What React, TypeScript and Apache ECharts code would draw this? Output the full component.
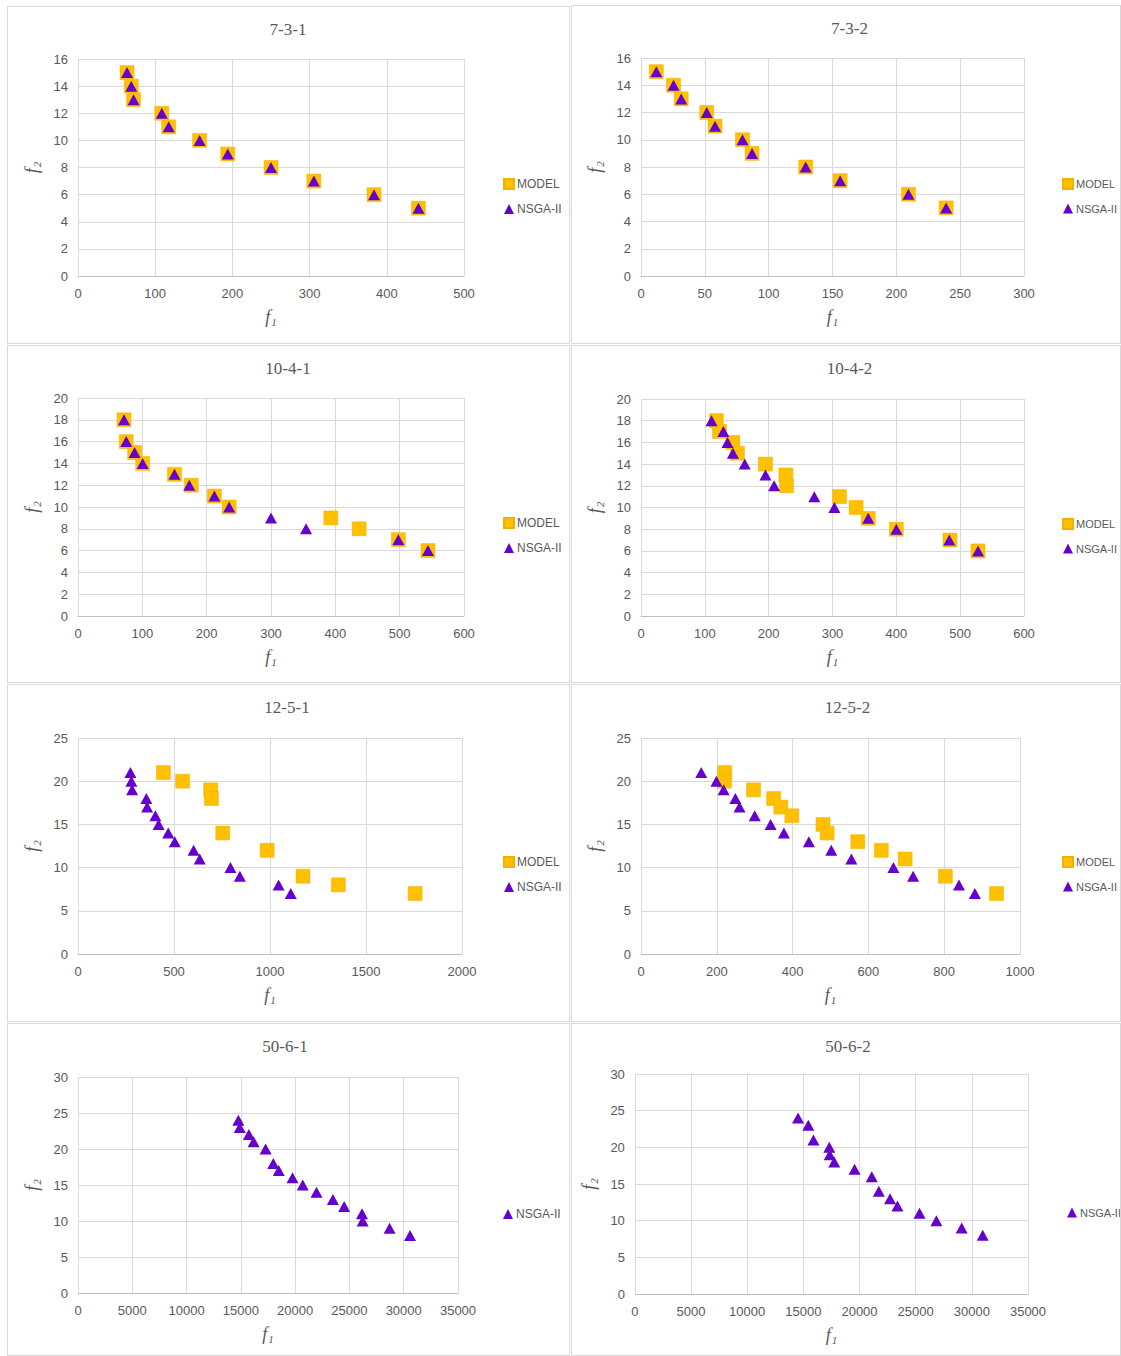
import React, { useEffect, useRef } from "react";
import * as echarts from "echarts";

// ---------- DATA ([f1, f2] pairs) ----------
const model_7_3_1: number[][] = [[63.5,15],[69,14],[72,13],[108.5,12],[117.5,11],[157.5,10],[194,9],[250,8],[305.5,7],[383.5,6],[441,5]];
const nsga_7_3_1: number[][] = [[63.5,15],[69,14],[72,13],[108.5,12],[117.5,11],[157.5,10],[194,9],[250,8],[305.5,7],[383.5,6],[441,5]];

const model_7_3_2: number[][] = [[12,15],[25.5,14],[31.5,13],[51.5,12],[58,11],[79.5,10],[87,9],[129,8],[156,7],[209.5,6],[239,5]];
const nsga_7_3_2: number[][] = [[12,15],[25.5,14],[31.5,13],[51.5,12],[58,11],[79.5,10],[87,9],[129,8],[156,7],[209.5,6],[239,5]];

const model_10_4_1: number[][] = [[71.5,18],[75,16],[88,15],[100.5,14],[150,13],[176,12],[212,11],[235,10],[393,9],[437,8],[498,7],[544,6]];
const nsga_10_4_1: number[][] = [[71.5,18],[75,16],[88,15],[100.5,14],[150,13],[173,12],[212,11],[235,10],[300,9],[354.5,8],[498,7],[544,6]];

const model_10_4_2: number[][] = [[118,18],[123,17],[144,16],[151,15],[195,14],[227,13],[228,12],[311,11],[337,10],[356,9],[400,8],[484,7],[528,6]];
const nsga_10_4_2: number[][] = [[110.5,18],[129,17],[135.5,16],[144,15],[162.5,14],[195,13],[208.5,12],[271.5,11],[303,10],[356,9],[400,8],[483,7],[528,6]];

const model_12_5_1: number[][] = [[445,21],[545,20],[691,19],[695,18],[754,14],[985,12],[1172,9],[1356,8],[1756,7]];
const nsga_12_5_1: number[][] = [[273,21],[278,20],[282,19],[356,18],[360,17],[403,16],[420,15],[470,14],[504,13],[602,12],[634,11],[794,10],[843,9],[1045,8],[1108,7]];

const model_12_5_2: number[][] = [[221,21],[220,20],[297,19],[350,18],[369,17],[398,16],[480,15],[491,14],[572,13],[634,12],[697,11],[803,9],[938,7]];
const nsga_12_5_2: number[][] = [[159,21],[199,20],[218,19],[249,18],[260,17],[300,16],[342,15],[377,14],[443,13],[502,12],[555,11],[666,10],[718,9],[839,8],[881,7]];

const nsga_50_6_1: number[][] = [[14770,24],[14900,23],[15740,22],[16175,21],[17280,20],[17985,18],[18490,17],[19760,16],[20700,15],[21970,14],[23480,13],[24515,12],[26160,11],[26220,10],[28700,9],[30580,8]];

const nsga_50_6_2: number[][] = [[14530,24],[15440,23],[15900,21],[17310,20],[17345,19],[17750,18],[19560,17],[21090,16],[21720,14],[22720,13],[23375,12],[25345,11],[26845,10],[29095,9],[30970,8]];

// ---------- PANEL SPECS ----------
type Spec = {
  title: string;
  box: [number, number, number, number];
  grid: [number, number, number, number];
  xMax: number; xInt: number; yMax: number; yInt: number;
  model?: number[][]; nsga: number[][];
  legend: [number, number];
  legendFont: number;
};

const specs: Spec[] = [
  { title: "7-3-1", box: [7, 6, 563, 338], grid: [70, 52, 386, 217], xMax: 500, xInt: 100, yMax: 16, yInt: 2, model: model_7_3_1, nsga: nsga_7_3_1, legend: [490, 166], legendFont: 12 },
  { title: "7-3-2", box: [571, 5, 550, 339], grid: [69, 52, 383, 218], xMax: 300, xInt: 50, yMax: 16, yInt: 2, model: model_7_3_2, nsga: nsga_7_3_2, legend: [485, 167], legendFont: 11 },
  { title: "10-4-1", box: [7, 345, 563, 338], grid: [70, 52, 386, 218], xMax: 600, xInt: 100, yMax: 20, yInt: 2, model: model_10_4_1, nsga: nsga_10_4_1, legend: [490, 166], legendFont: 12 },
  { title: "10-4-2", box: [571, 345, 550, 338], grid: [69, 53, 383, 217], xMax: 600, xInt: 100, yMax: 20, yInt: 2, model: model_10_4_2, nsga: nsga_10_4_2, legend: [485, 167], legendFont: 11 },
  { title: "12-5-1", box: [7, 684, 563, 338], grid: [70, 53, 384, 216], xMax: 2000, xInt: 500, yMax: 25, yInt: 5, model: model_12_5_1, nsga: nsga_12_5_1, legend: [490, 166], legendFont: 12 },
  { title: "12-5-2", box: [571, 684, 550, 338], grid: [69, 53, 379, 216], xMax: 1000, xInt: 200, yMax: 25, yInt: 5, model: model_12_5_2, nsga: nsga_12_5_2, legend: [485, 166], legendFont: 11 },
  { title: "50-6-1", box: [7, 1023, 563, 333], grid: [70, 53, 380, 216], xMax: 35000, xInt: 5000, yMax: 30, yInt: 5, nsga: nsga_50_6_1, legend: [490, 179], legendFont: 12 },
  { title: "50-6-2", box: [571, 1023, 550, 333], grid: [62, 50, 394, 220], xMax: 35000, xInt: 5000, yMax: 30, yInt: 5, nsga: nsga_50_6_2, legend: [490, 178], legendFont: 11 },
];

const GRAY = "#595959";
const GRID = "#d9d9d9";
const SANS = "'Liberation Sans', Arial, sans-serif";
const SERIF = "'Liberation Serif', 'Times New Roman', serif";
const MODEL_C = "#FFC000";
const NSGA_C = "#6600CC";

function Panel({ s }: { s: Spec }) {
  const ref = useRef<HTMLDivElement>(null);
  useEffect(() => {
    if (!ref.current) return;
    const chart = echarts.init(ref.current, undefined, { renderer: "svg" });
    const series: any[] = [];
    const legendData: any[] = [];
    if (s.model) {
      series.push({
        name: "MODEL", type: "scatter", symbol: "rect", symbolSize: 14,
        itemStyle: { color: MODEL_C, opacity: 1, borderColor: "#F2B000", borderWidth: 0.5 },
        data: s.model, z: 2,
      });
      legendData.push({ name: "MODEL", icon: "rect" });
    }
    series.push({
      name: "NSGA-II", type: "scatter", symbol: "triangle", symbolSize: [12, 11],
      itemStyle: { color: NSGA_C, opacity: 1 },
      data: s.nsga, z: 3,
    });
    legendData.push({ name: "NSGA-II", icon: "triangle" });

    const [gl, gt, gw, gh] = s.grid;
    const richName = {
      a: { fontFamily: SERIF, fontStyle: "italic", fontSize: 18, color: GRAY },
      b: { fontFamily: SERIF, fontStyle: "italic", fontSize: 11, color: GRAY, padding: [10, 0, 0, 1] },
    };
    chart.setOption({
      animation: false,
      title: {
        text: s.title, left: gl + gw / 2 + 12, top: 9, textAlign: "center",
        textStyle: { fontFamily: SERIF, fontSize: 17, fontWeight: "normal", color: GRAY },
      },
      legend: {
        orient: "vertical", left: s.legend[0], top: s.legend[1],
        itemWidth: 10, itemHeight: 10, itemGap: 13,
        textStyle: { fontFamily: SANS, fontSize: s.legendFont, color: GRAY, padding: [0, 0, 0, -2] },
        data: legendData,
      },
      grid: { left: gl, top: gt, width: gw, height: gh },
      xAxis: {
        type: "value", min: 0, max: s.xMax, interval: s.xInt,
        name: "{a|f}{b|1}", nameLocation: "middle", nameGap: 30,
        nameTextStyle: { rich: richName },
        axisLine: { show: true, lineStyle: { color: "#bfbfbf", width: 1 } },
        axisTick: { show: false },
        axisLabel: { fontFamily: SANS, fontSize: 13, color: GRAY, margin: 11, formatter: (v: number) => String(v) },
        splitLine: { show: true, lineStyle: { color: GRID, width: 1 } },
      },
      yAxis: {
        type: "value", min: 0, max: s.yMax, interval: s.yInt,
        name: "{a|f}{b|2}", nameLocation: "middle", nameGap: 32, nameRotate: 90,
        nameTextStyle: { rich: richName },
        axisLine: { show: false },
        axisTick: { show: false },
        axisLabel: { fontFamily: SANS, fontSize: 13, color: GRAY, margin: 10, formatter: (v: number) => String(v) },
        splitLine: { show: true, lineStyle: { color: GRID, width: 1 } },
      },
      series,
    });
    return () => chart.dispose();
  }, [s]);
  const [x, y, w, h] = s.box;
  return (
    <div
      style={{
        position: "absolute", left: x, top: y, width: w, height: h,
        border: "1px solid #d9d9d9", boxSizing: "border-box", background: "#fff",
      }}
    >
      <div ref={ref} style={{ width: w - 2, height: h - 2 }} />
    </div>
  );
}

export default function App() {
  return (
    <div style={{ position: "absolute", left: 0, top: 0, width: 1121, height: 1356, background: "#fff" }}>
      {specs.map((s) => (
        <Panel key={s.title} s={s} />
      ))}
    </div>
  );
}
